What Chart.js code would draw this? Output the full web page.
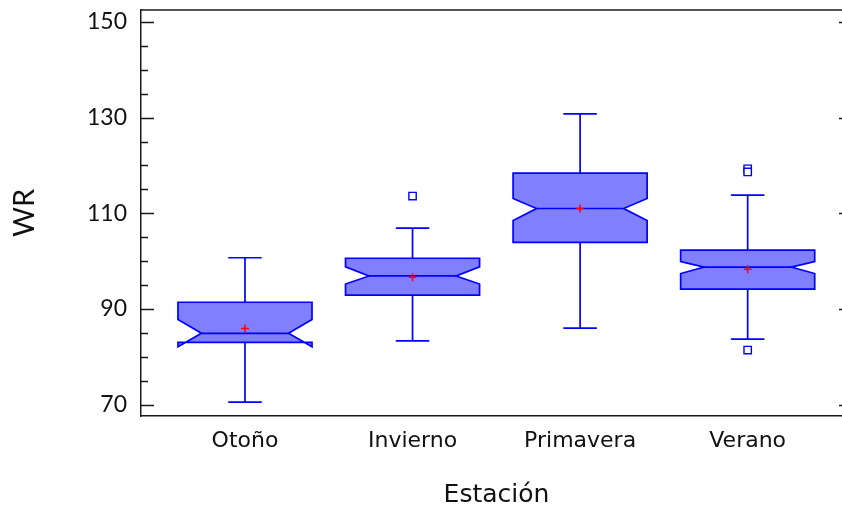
<!DOCTYPE html>
<html>
<head>
<meta charset="utf-8">
<script src="https://cdn.jsdelivr.net/npm/chart.js@4"></script>
<style>
  html, body { margin: 0; padding: 0; overflow: hidden; background: #ffffff; width: 842px; height: 510px; }
  canvas { display: block; }
</style>
</head>
<body>
<canvas id="chart" width="856" height="510"></canvas>
<script>
// WR by season: notched box plot summaries
const categories  = ['Otoño', 'Invierno', 'Primavera', 'Verano'];
const whiskerLow  = [70.5, 83.3, 86.0, 83.7];
const q1          = [83.0, 92.9, 103.9, 94.15];
const notchLow    = [82.1, 95.2, 108.5, 97.4];
const median      = [84.9, 96.9, 111.0, 98.75];
const notchHigh   = [87.8, 98.8, 113.1, 99.9];
const q3          = [91.4, 100.6, 118.4, 102.3];
const whiskerHigh = [100.7, 106.9, 130.8, 113.8];
const means       = [85.9, 96.6, 111.0, 98.3];
const outliers    = [[], [113.6], [], [119.3, 118.65, 81.4]];
const yTicks      = [70, 90, 110, 130, 150];
const yMinorStep  = 5;

const BOX_HALF = 0.4, NOTCH_HALF = 0.26, CAP_HALF = 0.1;
const BLUE = '#0000ff', FILL = '#8080ff', INK = '#1a1a1a';

// Notched boxes and whiskers, drawn under the mean and outlier markers
const boxPlugin = {
  id: 'notchedBoxes',
  beforeDatasetsDraw(chart) {
    const { ctx, scales: { x, y } } = chart;
    ctx.save();
    ctx.lineWidth = 1.7;
    ctx.strokeStyle = BLUE;
    ctx.lineJoin = 'miter';
    categories.forEach((_, i) => {
      const X = v => x.getPixelForValue(i + v);
      const Y = v => y.getPixelForValue(v);
      const xl = X(-BOX_HALF), xr = X(BOX_HALF);
      const xil = X(-NOTCH_HALF), xir = X(NOTCH_HALF);
      const xc = X(0), cl = X(-CAP_HALF), cr = X(CAP_HALF);

      // whiskers
      ctx.beginPath();
      ctx.moveTo(xc, Y(q3[i])); ctx.lineTo(xc, Y(whiskerHigh[i]));
      ctx.moveTo(cl, Y(whiskerHigh[i])); ctx.lineTo(cr, Y(whiskerHigh[i]));
      ctx.moveTo(xc, Y(q1[i])); ctx.lineTo(xc, Y(whiskerLow[i]));
      ctx.moveTo(cl, Y(whiskerLow[i])); ctx.lineTo(cr, Y(whiskerLow[i]));
      ctx.stroke();

      // notched box
      ctx.beginPath();
      ctx.moveTo(xl, Y(q3[i]));
      ctx.lineTo(xl, Y(notchHigh[i]));
      ctx.lineTo(xil, Y(median[i]));
      ctx.lineTo(xl, Y(notchLow[i]));
      ctx.lineTo(xl, Y(q1[i]));
      ctx.lineTo(xr, Y(q1[i]));
      ctx.lineTo(xr, Y(notchLow[i]));
      ctx.lineTo(xir, Y(median[i]));
      ctx.lineTo(xr, Y(notchHigh[i]));
      ctx.lineTo(xr, Y(q3[i]));
      ctx.closePath();
      ctx.fillStyle = FILL;
      ctx.fill('evenodd');
      ctx.stroke();

      // median
      ctx.beginPath();
      ctx.moveTo(xil, Y(median[i])); ctx.lineTo(xir, Y(median[i]));
      ctx.stroke();
    });
    ctx.restore();
  }
};

// Frame: top border and inward tick marks on left and right
const framePlugin = {
  id: 'frame',
  afterDraw(chart) {
    const { ctx, chartArea: a, scales: { y } } = chart;
    ctx.save();
    ctx.strokeStyle = INK;
    ctx.lineWidth = 1.5;
    ctx.beginPath();
    ctx.moveTo(a.left, a.top); ctx.lineTo(a.right, a.top);
    for (let v = yTicks[0]; v <= yTicks[yTicks.length - 1]; v += yMinorStep) {
      const py = Math.round(y.getPixelForValue(v)) + 0.5;
      const major = yTicks.includes(v);
      ctx.moveTo(a.left, py); ctx.lineTo(a.left + (major ? 13 : 7), py);
      if (major) { ctx.moveTo(a.right, py); ctx.lineTo(a.right - 13, py); }
    }
    ctx.stroke();
    ctx.restore();
  }
};

const meanPoints = means.map((m, i) => ({ x: i, y: m }));
const outlierPoints = outliers.flatMap((list, i) => list.map(v => ({ x: i, y: v })));

new Chart(document.getElementById('chart'), {
  type: 'scatter',
  data: {
    datasets: [
      {
        label: 'Media',
        data: meanPoints,
        pointStyle: 'cross',
        radius: 4,
        borderColor: '#ff0000',
        borderWidth: 1.5,
        backgroundColor: '#ff0000'
      },
      {
        label: 'Atípicos',
        data: outlierPoints,
        pointStyle: 'rect',
        radius: 5.2,
        borderColor: BLUE,
        borderWidth: 1.4,
        backgroundColor: '#ffffff'
      }
    ]
  },
  options: {
    responsive: false,
    animation: false,
    events: [],
    layout: { autoPadding: false, padding: { top: 10, right: 4, left: 0, bottom: 0 } },
    plugins: { legend: { display: false }, tooltip: { enabled: false } },
    scales: {
      x: {
        type: 'linear',
        min: -0.6206,
        max: 3.6226,
        grid: { display: false, drawTicks: false },
        border: { display: true, color: INK, width: 1.5 },
        afterBuildTicks: s => { s.ticks = categories.map((_, i) => ({ value: i })); },
        afterFit: s => { s.height = 94; s.paddingLeft = 0; s.paddingRight = 0; },
        ticks: {
          autoSkip: false,
          maxRotation: 0,
          padding: 12,
          color: '#111111',
          font: { family: 'DejaVu Sans', size: 22 },
          callback: v => categories[v] ?? ''
        },
        title: {
          display: true,
          text: 'Estación',
          color: '#111111',
          font: { family: 'DejaVu Sans', size: 25 },
          padding: { top: 0, bottom: 0 }
        }
      },
      y: {
        min: 67.61,
        max: 152.51,
        grid: { display: false, drawTicks: false },
        border: { display: true, color: INK, width: 1.5 },
        afterBuildTicks: s => { s.ticks = yTicks.map(v => ({ value: v })); },
        afterFit: s => { s.width = 141; s.paddingTop = 0; s.paddingBottom = 0; },
        ticks: {
          padding: 14,
          color: '#111111',
          font: { family: 'Lato', size: 23 }
        },
        title: {
          display: true,
          text: 'WR',
          color: '#111111',
          font: { family: 'Lato', size: 29 },
          padding: { top: 7, bottom: 0 }
        }
      }
    }
  },
  plugins: [boxPlugin, framePlugin]
});
</script>
</body>
</html>
